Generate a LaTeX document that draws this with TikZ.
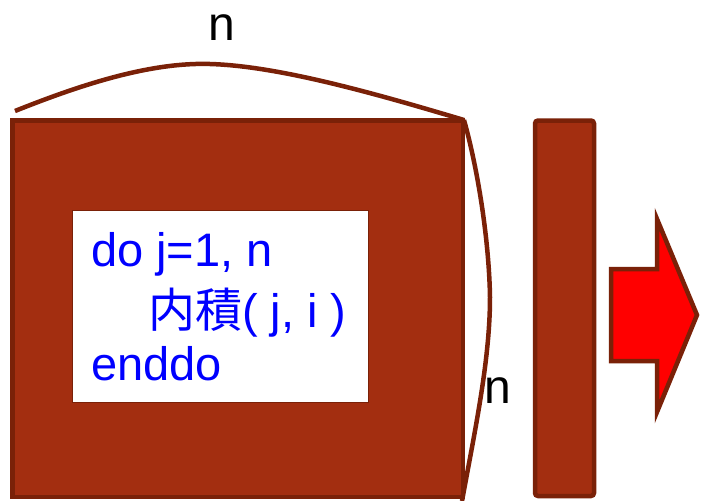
\documentclass[tikz,border=0pt]{standalone}
\usepackage{fontspec}
\setmainfont{Liberation Sans}
\newfontfamily\cjk{Noto Sans CJK JP}
\usepackage{xcolor}
\usetikzlibrary{positioning}
\definecolor{brick}{HTML}{A32E10}
\definecolor{rim}{HTML}{7A2108}

\tikzset{
    block/.style={draw=rim, fill=brick, line width=4.5pt},
    codeline/.style={anchor=base west, inner sep=0pt, text=blue, font=\fontsize{47}{56}\selectfont},
    sizelabel/.style={anchor=base, inner sep=0pt, font=\fontsize{48}{56}\selectfont},
    brace/.style={draw=rim, line width=4.5pt}
}

\begin{document}
\begin{tikzpicture}[x=1pt, y=-1pt]
    \useasboundingbox (0,0) rectangle (702,501);

    \draw[block] (12.5,120.5) rectangle (463,497);
    \draw[block, rounded corners=3pt] (535,120.5) rectangle (594,496);
    \draw[draw=rim, fill=white, line width=1.5pt] (72.5,210.5) rectangle (368.5,402.5);

    \node[codeline] (loophead) at (91,266) {do j=1, n};
    \node[codeline] (loopbody) at (148,327) {{\cjk 内積}( j, i )};
    \node[codeline] (loopend) at (91,380) {enddo};

    \coordinate (topstart) at (15,111);
    \coordinate (corner) at (464,120);
    \coordinate (sideend) at (462,501);

    \draw[brace] (topstart) .. controls (80,85) and (150,62) .. (210,64)
        .. controls (280,66) and (380,95) .. (corner);
    \draw[brace] (corner) .. controls (478,170) and (489,240) .. (490,297)
        .. controls (490,360) and (475,430) .. (sideend);

    \node[sizelabel] (ntop) at (222,40) {n};
    \node[sizelabel] (nside) at (498,403) {n};

    \draw[draw=rim, fill=red, line width=4.5pt, line join=miter]
        (611,269) -- (657,269) -- (657,219) -- (697,315) -- (657,412)
        -- (657,361) -- (611,361) -- cycle;
\end{tikzpicture}
\end{document}
